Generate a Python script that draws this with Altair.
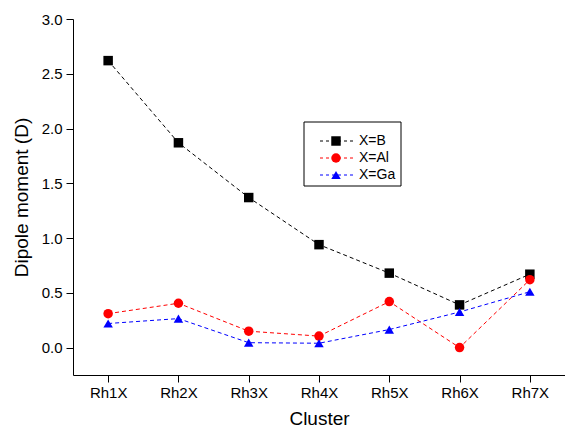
import altair as alt
import pandas as pd

clusters = ["Rh1X", "Rh2X", "Rh3X", "Rh4X", "Rh5X", "Rh6X", "Rh7X"]
series_names = ["X=B", "X=Al", "X=Ga"]
b_vals = [2.62, 1.87, 1.37, 0.94, 0.68, 0.39, 0.67]
al_vals = [0.31, 0.405, 0.15, 0.105, 0.42, 0.00, 0.62]
ga_vals = [0.22, 0.265, 0.045, 0.04, 0.165, 0.325, 0.51]
colors = ["#000000", "#ff0000", "#0000ff"]
markers = ["square", "circle", "triangle-up"]

y_ticks = [0.0, 0.5, 1.0, 1.5, 2.0, 2.5, 3.0]

rows = []
for name, vals in zip(series_names, [b_vals, al_vals, ga_vals]):
    for c, v in zip(clusters, vals):
        rows.append({"series": name, "cluster": c, "value": v})
df = pd.DataFrame(rows)
leg_df = pd.DataFrame({"series": series_names})

FONT = "Liberation Sans"

label_style = dict(
    labelFont=FONT,
    labelFontSize=15,
    labelColor="black",
    titleFont=FONT,
    titleFontSize=19,
    titleFontWeight="normal",
    titleColor="black",
    domainColor="black",
    tickColor="black",
    grid=False,
)

x_enc = alt.X(
    "cluster:O",
    sort=clusters,
    scale=alt.Scale(type="point", padding=0.5, domain=clusters),
    axis=alt.Axis(
        title="Cluster",
        labelAngle=0,
        tickSize=7,
        labelPadding=3,
        titlePadding=9,
        **label_style,
    ),
)
y_enc = alt.Y(
    "value:Q",
    scale=alt.Scale(domain=[-0.25, 3.0], nice=False, zero=False),
    axis=alt.Axis(
        title="Dipole moment (D)",
        values=y_ticks,
        format=".1f",
        labelFlush=False,
        labelOverlap=False,
        tickSize=7,
        labelPadding=4,
        titlePadding=10,
        **label_style,
    ),
)
color_scale = alt.Scale(domain=series_names, range=colors)
shape_scale = alt.Scale(domain=series_names, range=markers)

base = alt.Chart(df)

lines = base.mark_line(strokeDash=[4, 3], strokeWidth=1).encode(
    x=x_enc,
    y=y_enc,
    color=alt.Color("series:N", scale=color_scale, legend=None),
    detail="series:N",
)

points = base.mark_point(filled=True, size=90, opacity=1).encode(
    x=alt.X("cluster:O", sort=clusters),
    y="value:Q",
    color=alt.Color("series:N", scale=color_scale, legend=None),
    shape=alt.Shape("series:N", scale=shape_scale, legend=None),
)

# legend box drawn inside the plot area
legend_layers = [
    alt.Chart(leg_df.iloc[[0]]).mark_rect(fill="white", stroke="black", strokeWidth=1).encode(
        x=alt.value(231), x2=alt.value(328), y=alt.value(103), y2=alt.value(167)
    )
]
row_y = [122, 139, 156]
for i, name in enumerate(series_names):
    row = alt.Chart(leg_df.iloc[[i]])
    legend_layers.append(
        row.mark_rule(strokeDash=[3, 3], strokeWidth=1).encode(
            x=alt.value(247), x2=alt.value(280), y=alt.value(row_y[i]), color=alt.value(colors[i])
        )
    )
    legend_layers.append(
        row.mark_point(filled=True, size=90, opacity=1, shape=markers[i]).encode(
            x=alt.value(263), y=alt.value(row_y[i]), color=alt.value(colors[i])
        )
    )
    legend_layers.append(
        row.mark_text(align="left", baseline="middle", font=FONT, fontSize=14, color="black").encode(
            x=alt.value(286), y=alt.value(row_y[i]), text="series:N"
        )
    )

chart = (
    alt.layer(lines, points, *legend_layers)
    .properties(width=492, height=356, padding={"left": 4, "top": 4, "right": 0, "bottom": 0})
    .configure_view(stroke=None)
    .configure_axis(
        grid=False,
        domainColor="black",
        domainWidth=1,
        tickColor="black",
        tickWidth=1,
    )
)

chart.save("out.html", embed_options={"renderer": "svg", "actions": False})
